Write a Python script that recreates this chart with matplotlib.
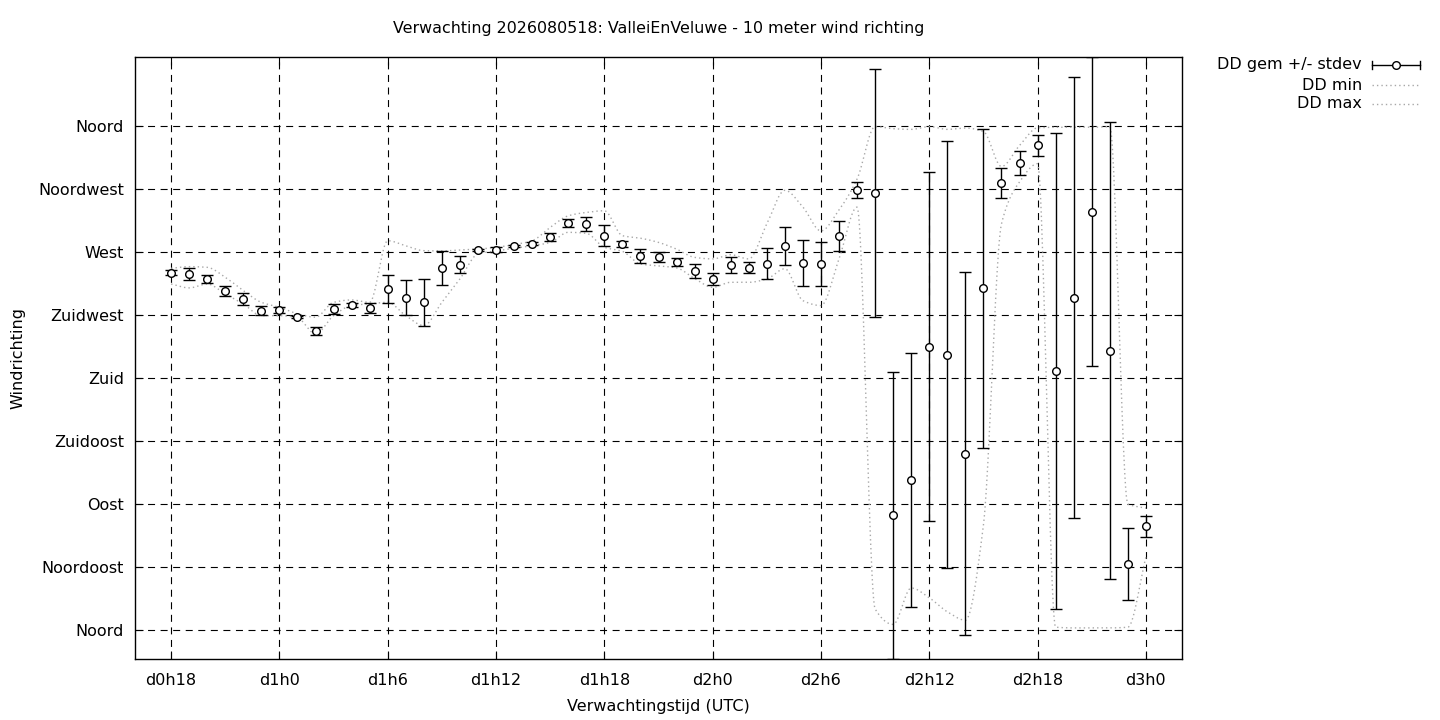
import numpy as np
import matplotlib
matplotlib.use("Agg")
import matplotlib.pyplot as plt
from matplotlib.lines import Line2D

plt.rcParams['font.family'] = ['DejaVu Sans']

hours = list(range(18, 73))
dd_mean = [255.2, 254.0, 250.7, 242.4, 236.5, 228.1, 228.6, 223.6, 213.6, 229.3,
           232.2, 230.0, 243.6, 237.4, 234.0, 258.6, 260.7, 271.4, 271.4, 274.2,
           275.9, 280.9, 290.6, 289.9, 281.6, 275.9, 267.1, 266.4, 263.0, 256.6,
           250.7, 260.9, 258.6, 261.6, 274.2, 262.1, 261.4, 281.4, 314.2, 311.8,
           81.8, 107.2, 202.2, 196.5, 126.0, 243.9, 319.1, 333.4, 346.2, 185.0,
           237.2, 298.7, 199.3, 47.0, 74.0]
dd_sd = [1.8, 4.3, 2.6, 3.6, 4.4, 3.4, 2.0, 1.0, 3.1, 3.7,
         1.5, 3.7, 9.9, 12.7, 16.9, 12.1, 6.1, 1.0, 1.8, 1.0,
         1.0, 2.9, 2.9, 5.0, 7.5, 2.1, 5.0, 3.9, 2.9, 4.9,
         4.6, 5.8, 3.9, 10.9, 13.5, 16.6, 16.0, 10.6, 5.5, 88.5,
         102.3, 90.9, 124.7, 152.5, 129.8, 113.7, 10.6, 8.7, 7.5, 169.9,
         157.4, 110.5, 163.2, 25.5, 7.6]
dd_min = [247.1, 244.3, 247.1, 240.0, 232.9, 224.5, 224.5, 222.9, 211.5, 224.5,
          231.7, 232.9, 234.0, 224.5, 217.4, 234.0, 250.7, 268.6, 270.7, 272.6,
          274.4, 276.8, 284.0, 283.3, 273.3, 270.4, 261.4, 260.0, 258.6, 251.0,
          244.7, 248.3, 248.3, 250.7, 258.0, 235.2, 231.7, 265.0, 302.0, 15.0,
          4.0, 30.0, 23.0, 13.0, 7.0, 75.0, 290.0, 320.0, 333.0, 2.0,
          1.5, 1.5, 1.5, 2.0, 52.0]
dd_max = [258.3, 259.5, 259.0, 251.9, 242.4, 234.0, 230.5, 225.8, 223.4, 234.0,
          235.7, 234.0, 278.0, 274.4, 270.9, 270.7, 271.4, 272.0, 273.3, 275.2,
          278.0, 287.5, 295.8, 298.2, 299.4, 281.6, 279.8, 276.8, 272.0, 266.1,
          265.0, 268.0, 265.0, 290.0, 314.0, 302.0, 285.0, 300.0, 322.0, 359.5,
          358.0, 357.5, 359.5, 357.5, 358.5, 356.0, 331.0, 346.0, 358.6, 359.0,
          359.0, 359.0, 359.5, 90.0, 87.0]

ytick_vals = [0, 45, 90, 135, 180, 225, 270, 315, 360]
ytick_labels = ['Noord', 'Noordoost', 'Oost', 'Zuidoost', 'Zuid',
                'Zuidwest', 'West', 'Noordwest', 'Noord']
xtick_vals = list(range(18, 73, 6))
xtick_labels = ['d%dh%d' % (h // 24, h % 24) for h in xtick_vals]


def pchip(x, y, n=24):
    x = np.asarray(x, float)
    y = np.asarray(y, float)
    h = np.diff(x)
    d = np.diff(y) / h
    m = np.zeros_like(y)
    m[0] = d[0]
    m[-1] = d[-1]
    for k in range(1, len(x) - 1):
        if d[k - 1] * d[k] <= 0:
            m[k] = 0.0
        else:
            w1 = 2 * h[k] + h[k - 1]
            w2 = h[k] + 2 * h[k - 1]
            m[k] = (w1 + w2) / (w1 / d[k - 1] + w2 / d[k])
    xs, ys = [], []
    for k in range(len(x) - 1):
        t = np.linspace(0, 1, n, endpoint=False)
        h00 = 2 * t**3 - 3 * t**2 + 1
        h10 = t**3 - 2 * t**2 + t
        h01 = -2 * t**3 + 3 * t**2
        h11 = t**3 - t**2
        xs.append(x[k] + t * h[k])
        ys.append(h00 * y[k] + h10 * h[k] * m[k] + h01 * y[k + 1] + h11 * h[k] * m[k + 1])
    xs.append([x[-1]])
    ys.append([y[-1]])
    return np.concatenate(xs), np.concatenate(ys)


W, H = 1440, 720
fig = plt.figure(figsize=(W / 100, H / 100), dpi=100)
ax = fig.add_axes([135 / W, 1 - 659 / H, (1182 - 135) / W, (659 - 57) / H])

grey = '#a8a8a8'
dot = (0, (1, 2.2))

xmn, ymn = pchip(hours, dd_min)
xmx, ymx = pchip(hours, dd_max)
ax.plot(xmn, ymn, color=grey, linestyle=dot, linewidth=1.0, zorder=2)
ax.plot(xmx, ymx, color=grey, linestyle=dot, linewidth=1.0, zorder=2)

ax.errorbar(hours, dd_mean, yerr=dd_sd, fmt='o', color='black', ecolor='black',
            elinewidth=1.0, capsize=4, capthick=1.0, markersize=5.5,
            markerfacecolor='white', markeredgecolor='black',
            markeredgewidth=1.0, zorder=3)

ax.set_xlim(16, 74)
ax.set_ylim(-20.7, 409.2)
ax.set_xticks(xtick_vals)
ax.set_xticklabels(xtick_labels)
ax.set_yticks(ytick_vals)
ax.set_yticklabels(ytick_labels)
ax.grid(True, color='black', linestyle=(0, (6.3, 5.0)), linewidth=0.8)
ax.tick_params(direction='in', length=6, width=0.8, top=True, right=True,
               labelsize=11.5, colors='black')
ax.tick_params(axis='x', pad=10)
ax.tick_params(axis='y', pad=8)
for s in ax.spines.values():
    s.set_linewidth(1.0)
    s.set_color('black')

fig.text(658.5 / W, 1 - 29 / H,
         'Verwachting 2026080518: ValleiEnVeluwe - 10 meter wind richting',
         ha='center', va='center', fontsize=11.4)
fig.text(658.5 / W, 1 - 707 / H, 'Verwachtingstijd (UTC)',
         ha='center', va='center', fontsize=11.5)
fig.text(18 / W, 1 - 358 / H, 'Windrichting', ha='center', va='center',
         rotation=90, fontsize=11.5)

# legend (gnuplot style, text right-aligned, sample on the right)
def fx(px):
    return px / W


def fy(py):
    return 1 - py / H


leg_rows = [(65, 'DD gem +/- stdev'), (85, 'DD min'), (104, 'DD max')]
for py, label in leg_rows:
    fig.text(fx(1362), fy(py), label, ha='right', va='center', fontsize=11.5)
py0 = 65
fig.add_artist(Line2D([fx(1372), fx(1420)], [fy(py0), fy(py0)], color='black',
                      linewidth=1.0, transform=fig.transFigure))
for cx in (1372, 1420):
    fig.add_artist(Line2D([fx(cx), fx(cx)], [fy(py0 - 4), fy(py0 + 4)],
                          color='black', linewidth=1.0, transform=fig.transFigure))
fig.add_artist(Line2D([fx(1396)], [fy(py0)], marker='o', markersize=5.5,
                      markerfacecolor='white', markeredgecolor='black',
                      markeredgewidth=1.0, linestyle='none',
                      transform=fig.transFigure))
for py in (85, 104):
    fig.add_artist(Line2D([fx(1372), fx(1420)], [fy(py), fy(py)], color=grey,
                          linestyle=dot, linewidth=1.0, transform=fig.transFigure))

fig.savefig('out.png', dpi=100)
